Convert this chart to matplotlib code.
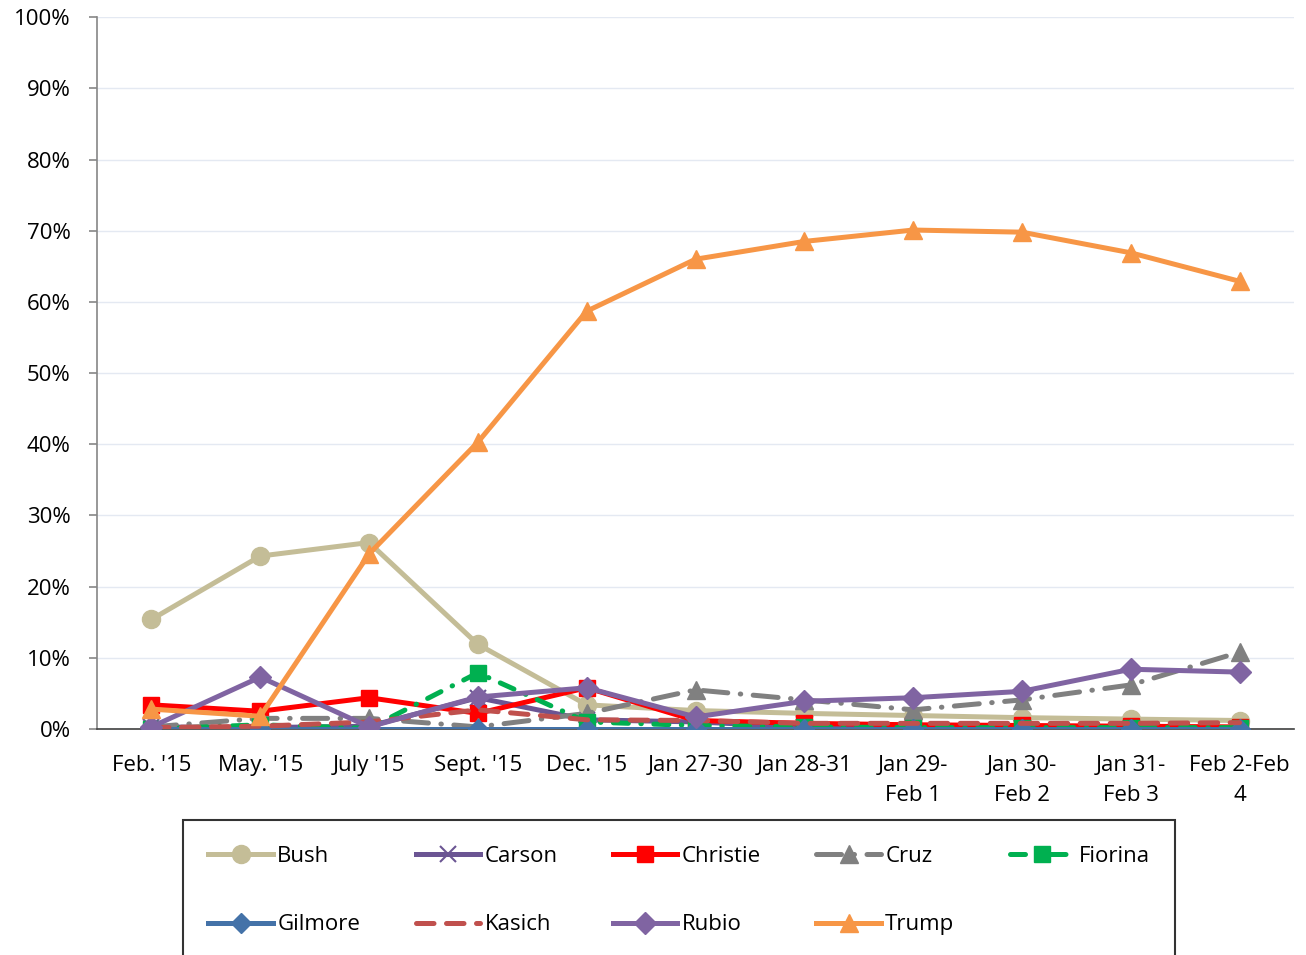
import matplotlib.pyplot as plt
from matplotlib.ticker import PercentFormatter

plt.rcParams['font.family'] = ['Open Sans', 'DejaVu Sans']

polls = ["Feb. '15", "May. '15", "July '15", "Sept. '15", "Dec. '15", "Jan 27-30",
         "Jan 28-31", "Jan 29-\nFeb 1", "Jan 30-\nFeb 2", "Jan 31-\nFeb 3", "Feb 2-Feb\n4"]

bush = [15.4, 24.3, 26.2, 11.9, 3.4, 2.6, 2.2, 1.9, 1.6, 1.4, 1.2]
carson = [0.3, 0.2, 0.4, 4.4, 1.3, 1.0, 0.3, 0.2, 0.2, 0.2, 0.2]
christie = [3.4, 2.5, 4.4, 2.2, 5.8, 1.2, 0.8, 0.6, 0.5, 0.4, 0.3]
cruz = [0.3, 1.5, 1.5, 0.3, 2.2, 5.5, 4.1, 2.7, 4.1, 6.2, 10.8]
fiorina = [0.0, 0.6, 0.1, 7.9, 1.0, 0.5, 0.3, 0.2, 0.2, 0.2, 0.2]
gilmore = [0, 0, 0, 0, 0, 0, 0, 0, 0, 0, 0]
kasich = [0.2, 0.4, 1.0, 2.7, 1.3, 1.2, 0.8, 0.8, 0.8, 0.8, 0.9]
rubio = [0.3, 7.3, 0.3, 4.5, 5.8, 1.7, 3.9, 4.4, 5.3, 8.4, 8.0]
trump = [2.8, 1.8, 24.6, 40.3, 58.7, 66.0, 68.5, 70.1, 69.8, 66.9, 62.9]

x = list(range(len(polls)))
lw = 3.6

fig = plt.figure(figsize=(13.06, 9.55), dpi=100)
ax = fig.add_axes([0.0743, 0.2366, 0.9165, 0.7454])

l_bush, = ax.plot(x, bush, color='#C4BD97', lw=lw, marker='o', ms=13, label='Bush', zorder=2)
l_carson, = ax.plot(x, carson, color='#6B5593', lw=lw, marker='x', ms=11, mew=1.5, label='Carson', zorder=3)
l_christie, = ax.plot(x, christie, color='#FF0000', lw=lw, marker='s', ms=11, label='Christie', zorder=4)
l_cruz, = ax.plot(x, cruz, color='#808080', lw=lw, marker='^', ms=13, dashes=(5, 2.5, 0.1, 2.5),
                  dash_capstyle='round', label='Cruz', zorder=5)
l_fiorina, = ax.plot(x, fiorina, color='#00B050', lw=lw, marker='s', ms=11, dashes=(3, 2.5, 0.1, 2.5),
                     dash_capstyle='round', label='Fiorina', zorder=6)
l_gilmore, = ax.plot(x, gilmore, color='#4472A8', lw=lw, marker='D', ms=10, label='Gilmore', zorder=7)
l_kasich, = ax.plot(x, kasich, color='#C0504D', lw=lw, dashes=(3.5, 2.5),
                    dash_capstyle='round', label='Kasich', zorder=8)
l_rubio, = ax.plot(x, rubio, color='#8064A2', lw=lw, marker='D', ms=11, label='Rubio', zorder=9)
l_trump, = ax.plot(x, trump, color='#F79646', lw=lw, marker='^', ms=13, label='Trump', zorder=10)

ax.set_xlim(-0.5, 10.5)
ax.set_ylim(0, 100)
ax.set_yticks(range(0, 101, 10))
ax.yaxis.set_major_formatter(PercentFormatter(decimals=0))
ax.set_xticks(x)
ax.set_xticklabels(polls, linespacing=1.55)
ax.tick_params(axis='x', length=0, pad=19, labelsize=16)
ax.tick_params(axis='y', length=6, width=1.2, color='#868686', pad=13, labelsize=16)
ax.grid(axis='y', color='#E4E9F2', lw=1)
ax.set_axisbelow(True)
for s in ['top', 'right']:
    ax.spines[s].set_visible(False)
ax.spines['left'].set_color('#868686')
ax.spines['left'].set_linewidth(1.2)
ax.spines['bottom'].set_color('#404040')
ax.spines['bottom'].set_linewidth(1.2)

# legend is filled column by column, so order the handles to read row by row
handles = [l_bush, l_gilmore, l_carson, l_kasich, l_christie, l_rubio, l_cruz, l_trump, l_fiorina]
leg = fig.legend(handles=handles, labels=[h.get_label() for h in handles],
                 loc='upper left', bbox_to_anchor=(0.140, -0.1, 0.760, 0.2414),
                 mode='expand', ncol=5, fontsize=16, handlelength=2.9, handletextpad=0.2,
                 labelspacing=2.15, borderpad=1.15, fancybox=False, edgecolor='black',
                 borderaxespad=0)
leg.get_frame().set_linewidth(1.5)

fig.savefig('out.png', dpi=100)
